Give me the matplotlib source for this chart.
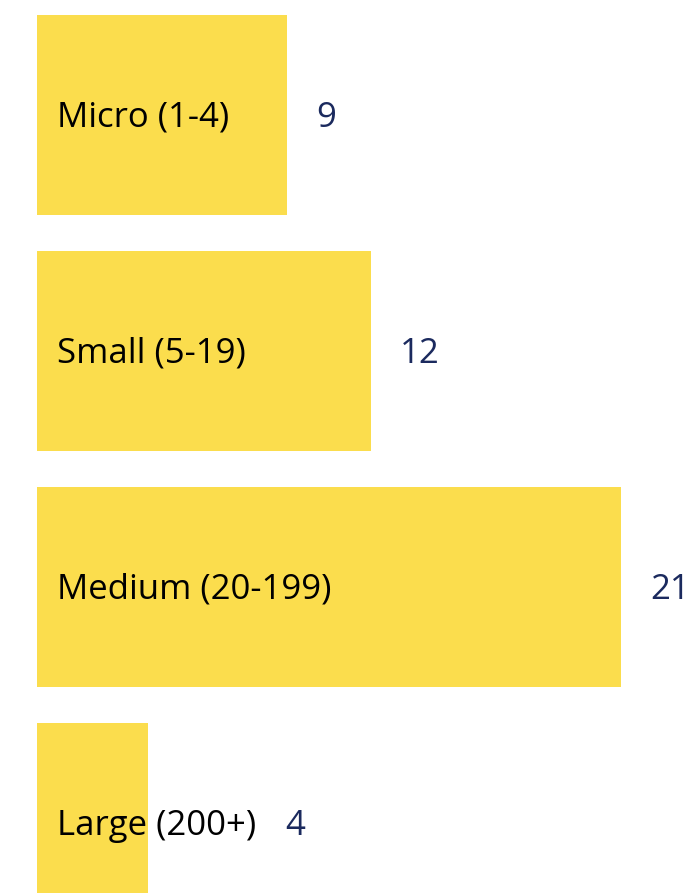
import matplotlib.pyplot as plt

categories = ["Micro (1-4)", "Small (5-19)", "Medium (20-199)", "Large (200+)"]
values = [9, 12, 21, 4]

plt.rcParams['font.family'] = ['Open Sans', 'DejaVu Sans']

fig = plt.figure(figsize=(6.93, 8.93), dpi=100)
ax = fig.add_axes([0, 0, 1, 1])
pos = list(range(len(values)))
ax.barh(pos, values, height=0.847, color="#FBDD4D")
ax.set_xlim(-37 / 27.8, (693 - 37) / 27.8)
ax.set_ylim((893 - 115) / 236, -115 / 236)
ax.axis("off")

fig.canvas.draw()
renderer = fig.canvas.get_renderer()
inv = ax.transData.inverted()
for i, (cat, v) in enumerate(zip(categories, values)):
    t = ax.annotate(cat, (0, i), xytext=(14.5, -8.5), textcoords="offset points",
                    va="baseline", ha="left", fontsize=25, color="black")
    ext = t.get_window_extent(renderer)
    label_end = inv.transform((ext.x1, 0))[0]
    x = max(v, label_end)
    ax.annotate(str(v), (x, i), xytext=(21, -8.5), textcoords="offset points",
                va="baseline", ha="left", fontsize=25, color="#1B2A5E")

fig.savefig("out.png", dpi=100)
